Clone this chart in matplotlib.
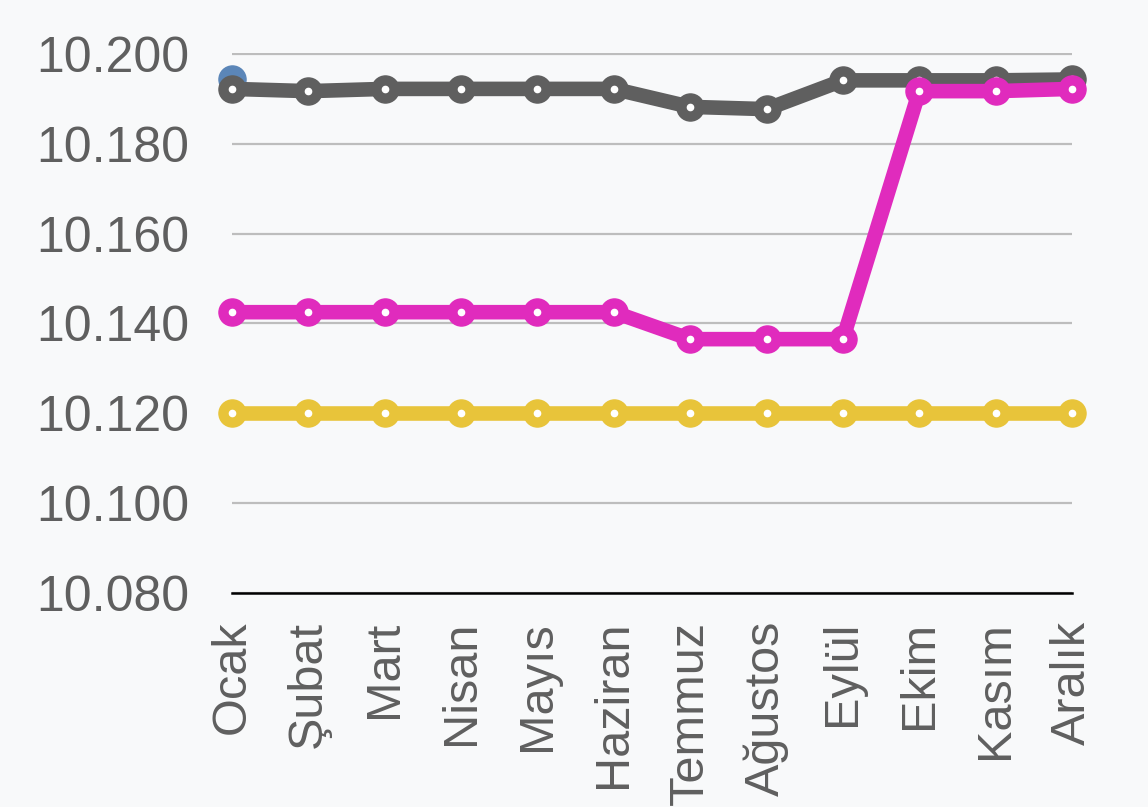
import numpy as np
import matplotlib
matplotlib.use("Agg")
import matplotlib.pyplot as plt

months = ["Ocak", "Şubat", "Mart", "Nisan", "Mayıs", "Haziran",
          "Temmuz", "Ağustos", "Eylül", "Ekim", "Kasım", "Aralık"]

blue_vals = [10.1945] + [np.nan] * 11
gray_vals = [10.1922, 10.1917, 10.1922, 10.1922, 10.1922, 10.1922,
             10.1882, 10.1877, 10.1941, 10.1941, 10.1941, 10.1943]
pink_vals = [10.1425, 10.1425, 10.1425, 10.1425, 10.1425, 10.1425,
             10.1365, 10.1365, 10.1365, 10.1917, 10.1917, 10.1922]
yellow_vals = [10.120] * 12

yticks = [10.080, 10.100, 10.120, 10.140, 10.160, 10.180, 10.200]

bg = "#f8f9fa"
txt = "#5f5f5f"

fig = plt.figure(figsize=(11.48, 8.07), dpi=100, facecolor=bg)
ax = fig.add_axes([232/1148, 1 - 593/807, (1072-232)/1148, (593-52.5)/807])
ax.set_facecolor(bg)

x = np.arange(len(months))

series = [(blue_vals, "#5b86b8"), (gray_vals, "#5f5f5f"),
          (pink_vals, "#e02bbd"), (yellow_vals, "#e8c43a")]
for i, (vals, col) in enumerate(series):
    z = 3 + 2 * i
    ax.plot(x, vals, color=col, lw=10.5, marker="o", ms=19.5,
            solid_joinstyle="round", clip_on=False, zorder=z)
    if i > 0:
        ax.plot(x, vals, ls="none", marker="o", ms=4.5, color="white",
                clip_on=False, zorder=z + 1)

ax.set_xlim(0, len(months) - 1)
ax.set_ylim(yticks[0], yticks[-1] + 0.0003)
ax.set_yticks(yticks)
ax.set_yticklabels([f"{v:.3f}" for v in yticks], fontsize=36,
                   color=txt, family="Liberation Sans")
ax.set_xticks(x)
ax.set_xticklabels(months, rotation=90, fontsize=35, color=txt,
                   family="Liberation Sans", va="top", ha="center")
ax.tick_params(axis="y", length=0, pad=31)
ax.tick_params(axis="x", length=0, pad=20)

ax.grid(axis="y", color="#bdbdbd", lw=1.6)
ax.grid(axis="x", visible=False)
for s in ["top", "right", "left"]:
    ax.spines[s].set_visible(False)
ax.spines["bottom"].set_color("black")
ax.spines["bottom"].set_linewidth(1.8)
ax.set_axisbelow(True)

fig.savefig("out.png", dpi=100, facecolor=bg)
